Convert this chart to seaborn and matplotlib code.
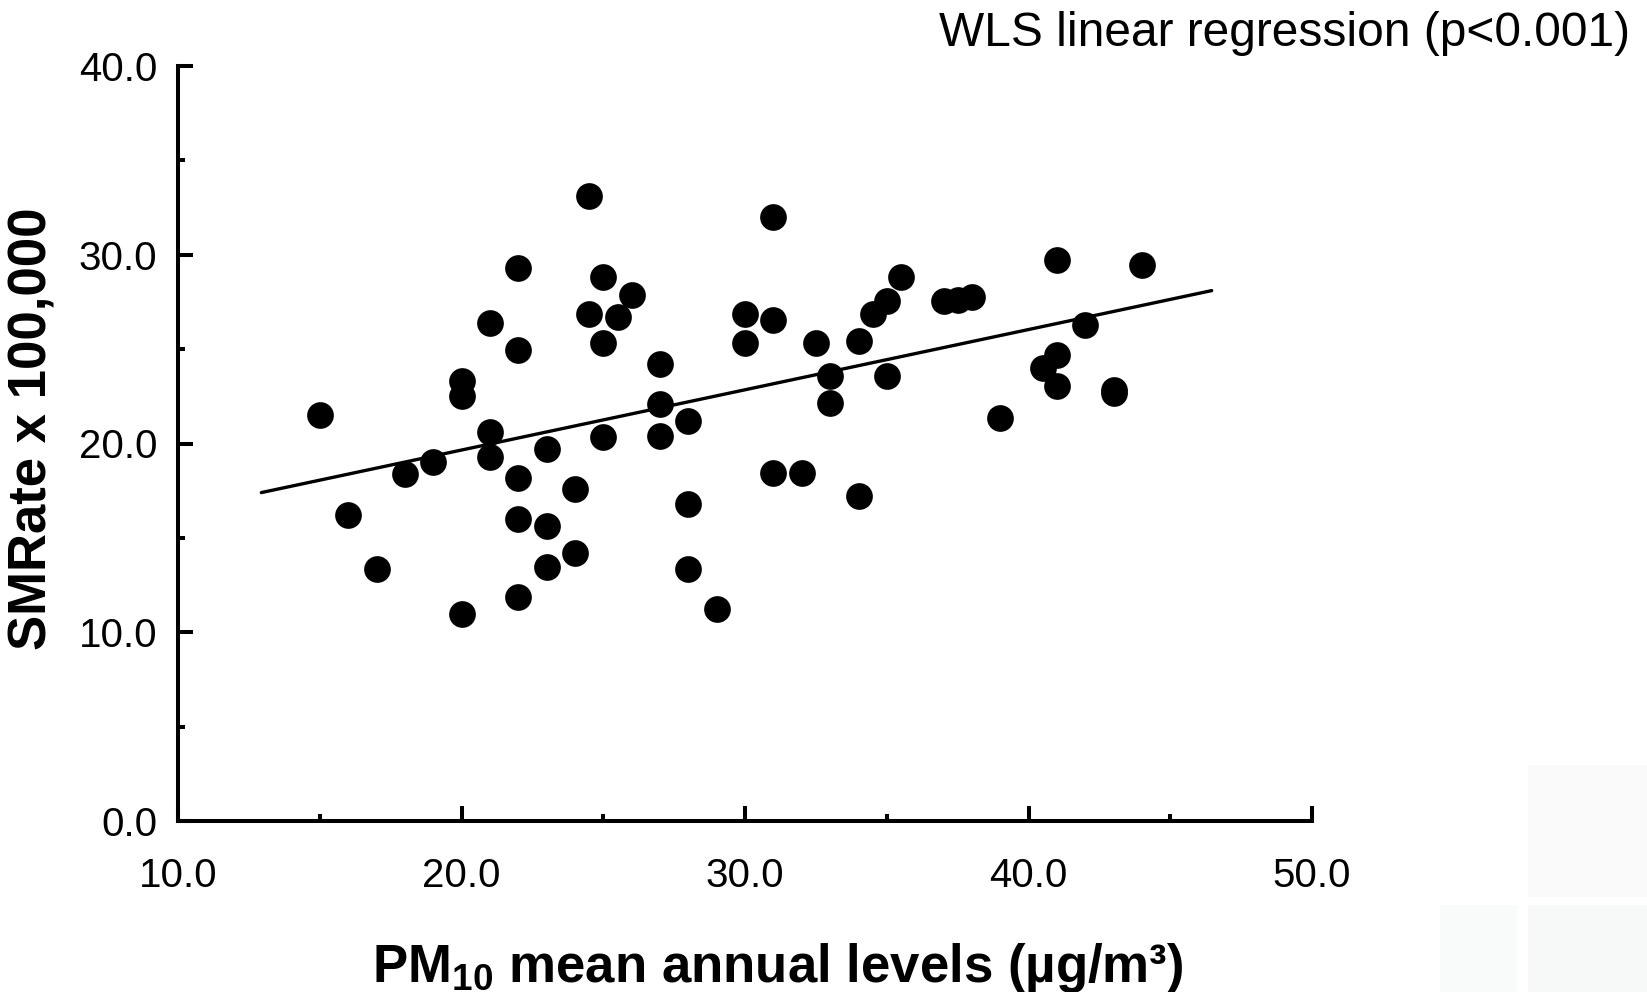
import matplotlib
matplotlib.use("Agg")
import matplotlib.pyplot as plt
import seaborn as sns
import pandas as pd
from matplotlib.ticker import FixedLocator, FormatStrFormatter
from matplotlib.patches import Rectangle

# ---- data ----
pm10 = [15.0, 16.0, 17.0, 18.0, 19.0, 20.0, 20.0, 20.0, 21.0, 21.0, 21.0,
        22.0, 22.0, 22.0, 22.0, 22.0, 23.0, 23.0, 23.0, 24.0, 24.0, 24.5,
        24.5, 25.0, 25.0, 25.0, 25.5, 26.0, 27.0, 27.0, 27.0, 28.0, 28.0,
        28.0, 29.0, 30.0, 30.0, 31.0, 31.0, 31.0, 32.0, 32.5, 33.0, 33.0,
        34.0, 34.0, 34.5, 35.0, 35.0, 35.5, 37.0, 37.5, 38.0, 39.0, 40.5,
        41.0, 41.0, 41.0, 42.0, 43.0, 43.0, 44.0]
smrate = [21.5, 16.2, 13.35, 18.4, 19.0, 23.3, 22.5, 10.95, 26.4, 20.6, 19.3,
          29.3, 24.95, 18.15, 16.0, 11.85, 19.7, 15.65, 13.45, 17.6, 14.2, 33.1,
          26.85, 28.8, 25.35, 20.35, 26.7, 27.85, 24.2, 22.1, 20.4, 21.2, 16.8,
          13.35, 11.25, 26.85, 25.3, 32.0, 26.55, 18.45, 18.45, 25.35, 23.6, 22.15,
          25.45, 17.2, 26.85, 27.55, 23.55, 28.8, 27.55, 27.6, 27.75, 21.35, 24.0,
          29.7, 24.7, 23.05, 26.3, 22.85, 22.65, 29.45]
fit_x = [12.93, 46.46]
fit_y = [17.40, 28.10]
x_ticks = [10.0, 20.0, 30.0, 40.0, 50.0]
x_minor = [15.0, 25.0, 35.0, 45.0]
y_ticks = [0.0, 10.0, 20.0, 30.0, 40.0]
y_minor = [5.0, 15.0, 25.0, 35.0]
title_txt = "WLS linear regression (p<0.001)"
xlabel_txt = r"PM$_{\mathbf{10}}$ mean annual levels (µg/m³)"
ylabel_txt = "SMRate x 100,000"

df = pd.DataFrame({"pm10": pm10, "smrate": smrate})
fit = pd.DataFrame({"x": fit_x, "y": fit_y})

sns.set_theme(style="ticks")
plt.rcParams["font.family"] = ["Liberation Sans", "DejaVu Sans"]
plt.rcParams["mathtext.fontset"] = "custom"
plt.rcParams["mathtext.rm"] = "Liberation Sans:bold"
plt.rcParams["mathtext.bf"] = "Liberation Sans:bold"
plt.rcParams["mathtext.it"] = "Liberation Sans:bold"

W, H = 1647, 992
fig = plt.figure(figsize=(W / 100, H / 100), dpi=100)
fig.patch.set_facecolor("white")

# very faint background blocks in the lower right corner
for (x0, y0, x1, y1, c) in [(1528, 765, 1647, 897, "#fafafa"),
                            (1440, 905, 1517, 992, "#f9fafa"),
                            (1528, 905, 1647, 992, "#f7f8f8")]:
    fig.patches.append(Rectangle((x0 / W, 1 - y1 / H), (x1 - x0) / W, (y1 - y0) / H,
                                 transform=fig.transFigure, facecolor=c,
                                 edgecolor="none", zorder=0))

left, right = 178.3 / W, 1312 / W
bottom, top = 1 - 821 / H, 1 - 66 / H
ax = fig.add_axes([left, bottom, right - left, top - bottom])
ax.set_facecolor("none")

sns.scatterplot(data=df, x="pm10", y="smrate", ax=ax, color="black",
                s=370, linewidth=0, zorder=3, legend=False)
sns.lineplot(data=fit, x="x", y="y", ax=ax, color="black", linewidth=2.4,
             zorder=2, legend=False)

ax.set_xlim(10, 50)
ax.set_ylim(0, 40)
ax.xaxis.set_major_locator(FixedLocator(x_ticks))
ax.xaxis.set_minor_locator(FixedLocator(x_minor))
ax.yaxis.set_major_locator(FixedLocator(y_ticks))
ax.yaxis.set_minor_locator(FixedLocator(y_minor))
ax.xaxis.set_major_formatter(FormatStrFormatter("%.1f"))
ax.yaxis.set_major_formatter(FormatStrFormatter("%.1f"))

for s in ["top", "right"]:
    ax.spines[s].set_visible(False)
for s in ["left", "bottom"]:
    ax.spines[s].set_linewidth(2.9)
    ax.spines[s].set_color("black")

ax.tick_params(axis="both", which="major", direction="in", length=10.5,
               width=2.9, color="black", labelsize=29, labelcolor="black")
ax.tick_params(axis="both", which="minor", direction="in", length=5.2,
               width=2.9, color="black")
ax.tick_params(axis="x", which="major", pad=26)
ax.tick_params(axis="y", which="major", pad=15)

ax.set_xlabel("")
ax.set_ylabel("")

fig.text(778 / W, 1 - 982 / H, xlabel_txt, ha="center", va="baseline",
         fontsize=38, fontweight="bold", color="black")
fig.text(33 / W, 1 - 429 / H, ylabel_txt, ha="center", va="center",
         rotation=90, fontsize=38, fontweight="bold", color="black")
fig.text(1630 / W, 1 - 46 / H, title_txt, ha="right", va="baseline",
         fontsize=34.5, color="black")

fig.savefig("out.png", dpi=100, facecolor="white")
